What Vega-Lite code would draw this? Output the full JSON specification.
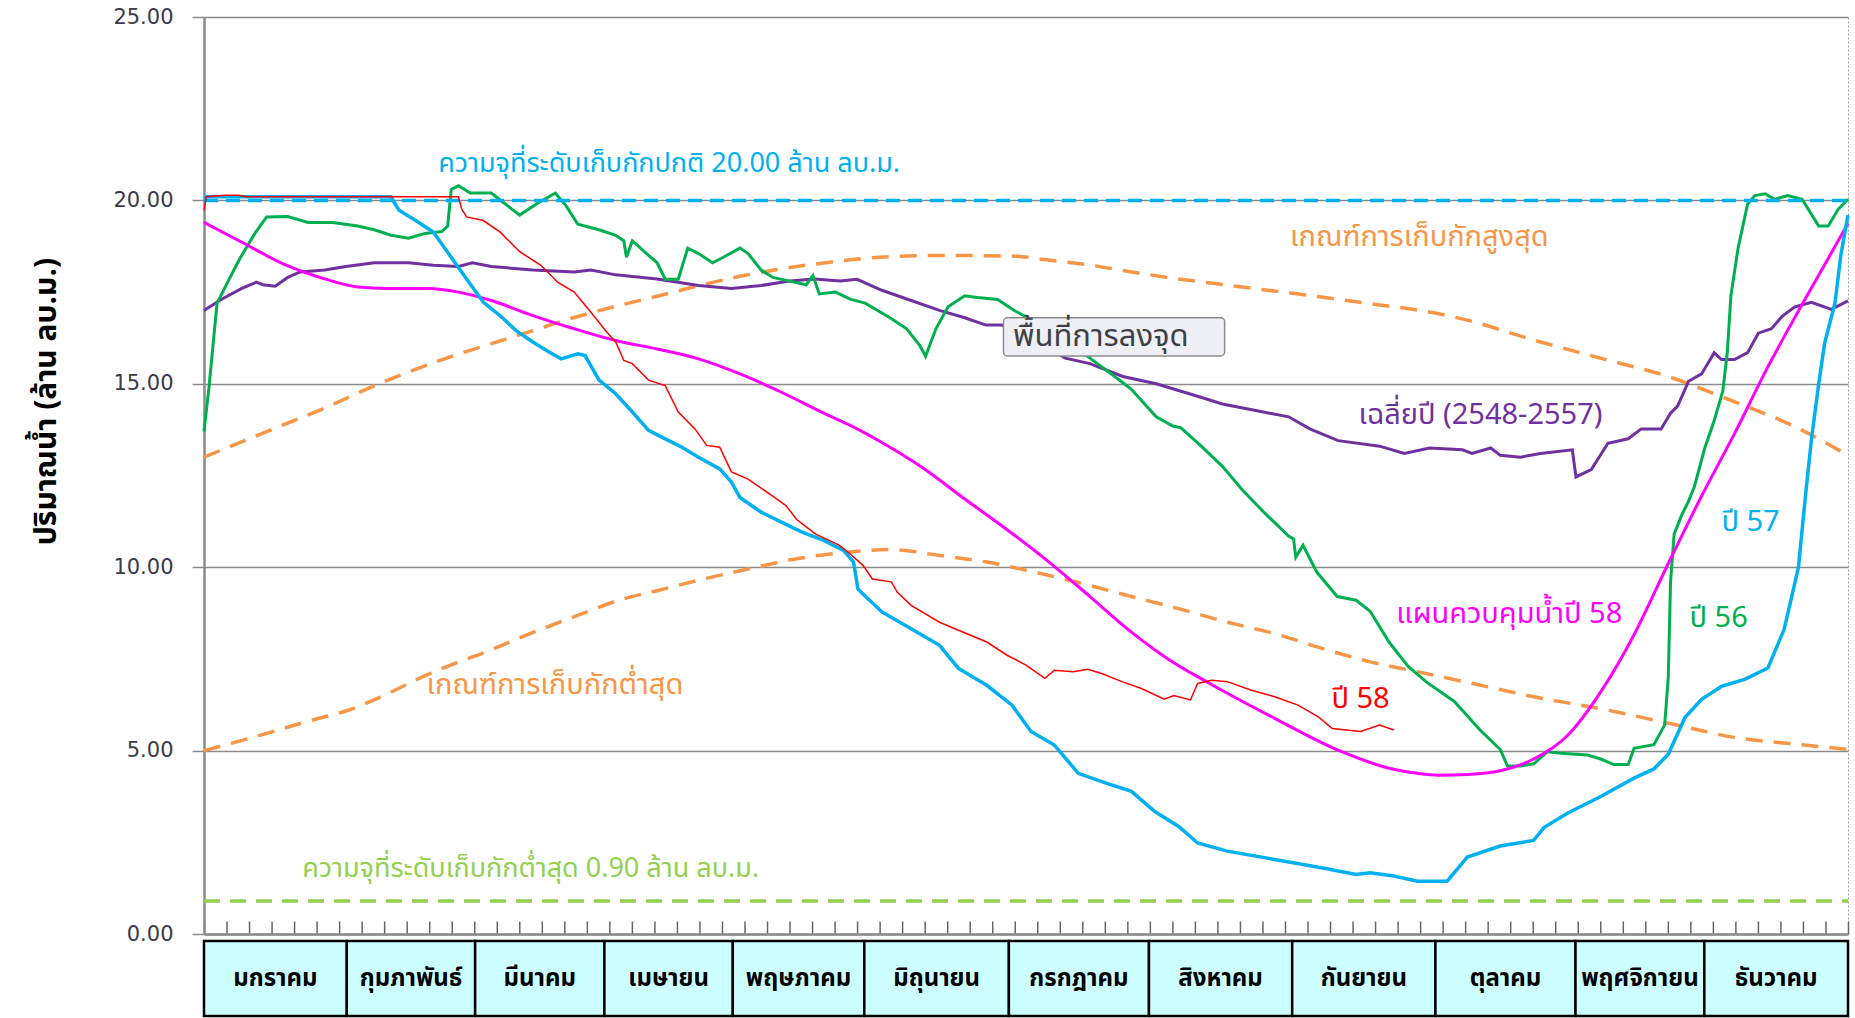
{
"$schema": "https://vega.github.io/schema/vega-lite/v6.json",
"autosize": {"type": "pad"},
"padding": {"left": 30, "top": 5, "right": 7, "bottom": 3},
"background": "white",
"spacing": 7,
"bounds": "flush",
"config": {"font": "Tahoma, 'Noto Sans Thai', 'DejaVu Sans', sans-serif", "view": {"stroke": null}},
"datasets": {
"lines": [
{"s":"p58","d":0,"v":19.73},{"s":"p58","d":0.5,"v":20.1},{"s":"p58","d":4.7,"v":20.14},{"s":"p58","d":7.6,"v":20.14},{"s":"p58","d":9.5,"v":20.1},{"s":"p58","d":56.5,"v":20.1},{"s":"p58","d":57.2,"v":19.77},{"s":"p58","d":58.3,"v":19.55},{"s":"p58","d":62.0,"v":19.45},{"s":"p58","d":65.7,"v":19.14},{"s":"p58","d":70.1,"v":18.6},{"s":"p58","d":74.8,"v":18.23},{"s":"p58","d":78.5,"v":17.77},{"s":"p58","d":82.2,"v":17.5},{"s":"p58","d":85.9,"v":16.95},{"s":"p58","d":89.5,"v":16.4},{"s":"p58","d":91.4,"v":16.14},{"s":"p58","d":93.2,"v":15.64},{"s":"p58","d":95.1,"v":15.55},{"s":"p58","d":98.7,"v":15.1},{"s":"p58","d":102.4,"v":14.95},{"s":"p58","d":105.3,"v":14.23},{"s":"p58","d":109.0,"v":13.77},{"s":"p58","d":111.6,"v":13.32},{"s":"p58","d":114.5,"v":13.27},{"s":"p58","d":117.1,"v":12.6},{"s":"p58","d":120.8,"v":12.4},{"s":"p58","d":126.1,"v":11.95},{"s":"p58","d":129.2,"v":11.68},{"s":"p58","d":131.6,"v":11.3},{"s":"p58","d":135.8,"v":10.9},{"s":"p58","d":141.0,"v":10.6},{"s":"p58","d":143.1,"v":10.4},{"s":"p58","d":146.3,"v":10.05},{"s":"p58","d":148.4,"v":9.68},{"s":"p58","d":152.6,"v":9.6},{"s":"p58","d":153.9,"v":9.32},{"s":"p58","d":157.0,"v":8.96},{"s":"p58","d":163.3,"v":8.5},{"s":"p58","d":167.5,"v":8.28},{"s":"p58","d":173.8,"v":7.96},{"s":"p58","d":178.3,"v":7.6},{"s":"p58","d":182.5,"v":7.33},{"s":"p58","d":186.7,"v":6.97},{"s":"p58","d":188.8,"v":7.19},{"s":"p58","d":193.0,"v":7.15},{"s":"p58","d":196.2,"v":7.22},{"s":"p58","d":199.3,"v":7.1},{"s":"p58","d":203.8,"v":6.88},{"s":"p58","d":208.0,"v":6.7},{"s":"p58","d":213.2,"v":6.4},{"s":"p58","d":215.3,"v":6.5},{"s":"p58","d":219.0,"v":6.38},{"s":"p58","d":220.6,"v":6.83},{"s":"p58","d":223.7,"v":6.92},{"s":"p58","d":227.2,"v":6.88},{"s":"p58","d":232.4,"v":6.65},{"s":"p58","d":237.7,"v":6.47},{"s":"p58","d":242.9,"v":6.24},{"s":"p58","d":247.4,"v":5.92},{"s":"p58","d":250.5,"v":5.6},{"s":"p58","d":256.8,"v":5.52},{"s":"p58","d":261.0,"v":5.7},{"s":"p58","d":264.2,"v":5.56},
{"s":"p57","d":0,"v":20.1},{"s":"p57","d":41.5,"v":20.1},{"s":"p57","d":43.3,"v":19.73},{"s":"p57","d":47.0,"v":19.45},{"s":"p57","d":50.9,"v":19.14},{"s":"p57","d":54.6,"v":18.5},{"s":"p57","d":58.3,"v":17.86},{"s":"p57","d":62.0,"v":17.23},{"s":"p57","d":65.7,"v":16.86},{"s":"p57","d":69.3,"v":16.45},{"s":"p57","d":73.0,"v":16.14},{"s":"p57","d":76.7,"v":15.86},{"s":"p57","d":79.3,"v":15.68},{"s":"p57","d":83.0,"v":15.82},{"s":"p57","d":84.6,"v":15.77},{"s":"p57","d":87.7,"v":15.1},{"s":"p57","d":91.4,"v":14.73},{"s":"p57","d":95.1,"v":14.23},{"s":"p57","d":98.7,"v":13.73},{"s":"p57","d":102.4,"v":13.5},{"s":"p57","d":106.1,"v":13.27},{"s":"p57","d":109.8,"v":13.0},{"s":"p57","d":114.5,"v":12.68},{"s":"p57","d":117.1,"v":12.32},{"s":"p57","d":119.0,"v":11.9},{"s":"p57","d":123.7,"v":11.5},{"s":"p57","d":128.2,"v":11.23},{"s":"p57","d":132.9,"v":10.95},{"s":"p57","d":137.6,"v":10.73},{"s":"p57","d":142.1,"v":10.45},{"s":"p57","d":144.2,"v":10.14},{"s":"p57","d":145.2,"v":9.4},{"s":"p57","d":150.5,"v":8.78},{"s":"p57","d":157.0,"v":8.32},{"s":"p57","d":163.3,"v":7.87},{"s":"p57","d":167.5,"v":7.24},{"s":"p57","d":173.8,"v":6.78},{"s":"p57","d":179.4,"v":6.24},{"s":"p57","d":183.6,"v":5.52},{"s":"p57","d":188.8,"v":5.15},{"s":"p57","d":194.1,"v":4.38},{"s":"p57","d":200.6,"v":4.1},{"s":"p57","d":205.9,"v":3.89},{"s":"p57","d":211.1,"v":3.34},{"s":"p57","d":216.4,"v":2.93},{"s":"p57","d":220.6,"v":2.48},{"s":"p57","d":227.2,"v":2.26},{"s":"p57","d":237.7,"v":2.03},{"s":"p57","d":248.4,"v":1.8},{"s":"p57","d":255.8,"v":1.62},{"s":"p57","d":258.9,"v":1.67},{"s":"p57","d":264.2,"v":1.58},{"s":"p57","d":269.4,"v":1.44},{"s":"p57","d":276.0,"v":1.44},{"s":"p57","d":280.5,"v":2.1},{"s":"p57","d":287.8,"v":2.4},{"s":"p57","d":295.2,"v":2.55},{"s":"p57","d":297.5,"v":2.9},{"s":"p57","d":302.8,"v":3.3},{"s":"p57","d":310.1,"v":3.75},{"s":"p57","d":317.5,"v":4.25},{"s":"p57","d":321.9,"v":4.5},{"s":"p57","d":325.1,"v":4.9},{"s":"p57","d":328.8,"v":5.9},{"s":"p57","d":332.5,"v":6.4},{"s":"p57","d":336.9,"v":6.75},{"s":"p57","d":342.2,"v":6.95},{"s":"p57","d":347.2,"v":7.25},{"s":"p57","d":350.8,"v":8.3},{"s":"p57","d":352.7,"v":9.3},{"s":"p57","d":354.0,"v":10.0},{"s":"p57","d":355.6,"v":12.0},{"s":"p57","d":356.9,"v":13.5},{"s":"p57","d":358.5,"v":15.0},{"s":"p57","d":359.8,"v":16.1},{"s":"p57","d":362.1,"v":17.2},{"s":"p57","d":363.4,"v":18.5},{"s":"p57","d":365,"v":19.6},
{"s":"p56","d":0,"v":13.7},{"s":"p56","d":1.1,"v":14.9},{"s":"p56","d":2.9,"v":17.2},{"s":"p56","d":5.8,"v":17.9},{"s":"p56","d":7.9,"v":18.4},{"s":"p56","d":11.3,"v":19.1},{"s":"p56","d":13.9,"v":19.55},{"s":"p56","d":18.6,"v":19.56},{"s":"p56","d":23.1,"v":19.4},{"s":"p56","d":28.6,"v":19.4},{"s":"p56","d":34.1,"v":19.3},{"s":"p56","d":37.8,"v":19.2},{"s":"p56","d":41.5,"v":19.05},{"s":"p56","d":45.4,"v":18.97},{"s":"p56","d":49.1,"v":19.1},{"s":"p56","d":52.8,"v":19.15},{"s":"p56","d":54.1,"v":19.3},{"s":"p56","d":54.9,"v":20.3},{"s":"p56","d":56.5,"v":20.4},{"s":"p56","d":59.1,"v":20.2},{"s":"p56","d":63.8,"v":20.2},{"s":"p56","d":66.4,"v":19.95},{"s":"p56","d":70.1,"v":19.6},{"s":"p56","d":73.8,"v":19.9},{"s":"p56","d":78.0,"v":20.2},{"s":"p56","d":80.4,"v":19.85},{"s":"p56","d":83.0,"v":19.35},{"s":"p56","d":87.7,"v":19.2},{"s":"p56","d":91.4,"v":19.05},{"s":"p56","d":93.2,"v":18.9},{"s":"p56","d":93.8,"v":18.45},{"s":"p56","d":95.1,"v":18.9},{"s":"p56","d":98.7,"v":18.5},{"s":"p56","d":100.6,"v":18.3},{"s":"p56","d":102.4,"v":17.85},{"s":"p56","d":105.3,"v":17.85},{"s":"p56","d":107.4,"v":18.7},{"s":"p56","d":109.8,"v":18.55},{"s":"p56","d":112.9,"v":18.3},{"s":"p56","d":115.3,"v":18.45},{"s":"p56","d":119.0,"v":18.7},{"s":"p56","d":120.8,"v":18.55},{"s":"p56","d":123.7,"v":18.1},{"s":"p56","d":126.3,"v":17.9},{"s":"p56","d":130.0,"v":17.8},{"s":"p56","d":133.7,"v":17.7},{"s":"p56","d":135.2,"v":17.95},{"s":"p56","d":136.6,"v":17.45},{"s":"p56","d":140.2,"v":17.5},{"s":"p56","d":143.6,"v":17.3},{"s":"p56","d":146.8,"v":17.2},{"s":"p56","d":152.3,"v":16.8},{"s":"p56","d":156.0,"v":16.5},{"s":"p56","d":158.9,"v":16.05},{"s":"p56","d":160.2,"v":15.75},{"s":"p56","d":162.5,"v":16.5},{"s":"p56","d":165.2,"v":17.1},{"s":"p56","d":168.9,"v":17.4},{"s":"p56","d":171.7,"v":17.35},{"s":"p56","d":176.2,"v":17.3},{"s":"p56","d":179.9,"v":17.0},{"s":"p56","d":188.8,"v":16.4},{"s":"p56","d":196.7,"v":15.7},{"s":"p56","d":202.2,"v":15.2},{"s":"p56","d":205.9,"v":14.85},{"s":"p56","d":211.4,"v":14.1},{"s":"p56","d":215.1,"v":13.85},{"s":"p56","d":216.9,"v":13.8},{"s":"p56","d":221.4,"v":13.3},{"s":"p56","d":226.1,"v":12.75},{"s":"p56","d":230.6,"v":12.1},{"s":"p56","d":235.3,"v":11.5},{"s":"p56","d":240.8,"v":10.85},{"s":"p56","d":241.9,"v":10.77},{"s":"p56","d":242.4,"v":10.27},{"s":"p56","d":244.0,"v":10.6},{"s":"p56","d":247.1,"v":9.86},{"s":"p56","d":251.6,"v":9.2},{"s":"p56","d":255.8,"v":9.1},{"s":"p56","d":258.9,"v":8.8},{"s":"p56","d":263.1,"v":7.96},{"s":"p56","d":267.3,"v":7.3},{"s":"p56","d":271.5,"v":6.86},{"s":"p56","d":277.6,"v":6.34},{"s":"p56","d":283.4,"v":5.55},{"s":"p56","d":287.8,"v":5.03},{"s":"p56","d":289.4,"v":4.58},{"s":"p56","d":292.3,"v":4.58},{"s":"p56","d":295.2,"v":4.64},{"s":"p56","d":298.3,"v":4.97},{"s":"p56","d":301.2,"v":4.93},{"s":"p56","d":307.2,"v":4.88},{"s":"p56","d":310.1,"v":4.77},{"s":"p56","d":313.0,"v":4.62},{"s":"p56","d":316.2,"v":4.62},{"s":"p56","d":317.5,"v":5.06},{"s":"p56","d":321.9,"v":5.16},{"s":"p56","d":324.3,"v":5.7},{"s":"p56","d":325.1,"v":7.0},{"s":"p56","d":325.6,"v":9.6},{"s":"p56","d":326.4,"v":10.9},{"s":"p56","d":328.0,"v":11.4},{"s":"p56","d":329.6,"v":11.8},{"s":"p56","d":330.9,"v":12.2},{"s":"p56","d":333.2,"v":13.25},{"s":"p56","d":335.3,"v":14.0},{"s":"p56","d":337.2,"v":14.8},{"s":"p56","d":338.2,"v":15.85},{"s":"p56","d":339.0,"v":17.4},{"s":"p56","d":340.6,"v":18.7},{"s":"p56","d":342.7,"v":19.9},{"s":"p56","d":344.3,"v":20.13},{"s":"p56","d":346.6,"v":20.18},{"s":"p56","d":348.7,"v":20.03},{"s":"p56","d":351.6,"v":20.13},{"s":"p56","d":354.8,"v":20.03},{"s":"p56","d":358.5,"v":19.3},{"s":"p56","d":360.6,"v":19.3},{"s":"p56","d":362.9,"v":19.77},{"s":"p56","d":365,"v":20.03},
{"s":"avg","d":0,"v":17.0},{"s":"avg","d":3.8,"v":17.3},{"s":"avg","d":8.4,"v":17.6},{"s":"avg","d":11.6,"v":17.77},{"s":"avg","d":13.1,"v":17.7},{"s":"avg","d":15.8,"v":17.66},{"s":"avg","d":18.6,"v":17.9},{"s":"avg","d":21.3,"v":18.05},{"s":"avg","d":26.8,"v":18.1},{"s":"avg","d":31.5,"v":18.2},{"s":"avg","d":37.8,"v":18.3},{"s":"avg","d":45.4,"v":18.3},{"s":"avg","d":50.9,"v":18.23},{"s":"avg","d":56.5,"v":18.2},{"s":"avg","d":59.6,"v":18.3},{"s":"avg","d":63.8,"v":18.2},{"s":"avg","d":73.0,"v":18.1},{"s":"avg","d":82.2,"v":18.05},{"s":"avg","d":85.9,"v":18.1},{"s":"avg","d":91.4,"v":17.97},{"s":"avg","d":100.6,"v":17.86},{"s":"avg","d":109.8,"v":17.68},{"s":"avg","d":117.1,"v":17.6},{"s":"avg","d":123.7,"v":17.68},{"s":"avg","d":130.0,"v":17.8},{"s":"avg","d":135.5,"v":17.86},{"s":"avg","d":141.3,"v":17.8},{"s":"avg","d":145.0,"v":17.85},{"s":"avg","d":150.5,"v":17.55},{"s":"avg","d":157.0,"v":17.27},{"s":"avg","d":163.3,"v":17.0},{"s":"avg","d":168.9,"v":16.8},{"s":"avg","d":173.6,"v":16.6},{"s":"avg","d":177.2,"v":16.6},{"s":"avg","d":184.6,"v":16.2},{"s":"avg","d":191.2,"v":15.7},{"s":"avg","d":196.7,"v":15.55},{"s":"avg","d":204.0,"v":15.2},{"s":"avg","d":211.4,"v":15.0},{"s":"avg","d":219.5,"v":14.7},{"s":"avg","d":226.1,"v":14.45},{"s":"avg","d":233.5,"v":14.27},{"s":"avg","d":240.8,"v":14.1},{"s":"avg","d":245.5,"v":13.77},{"s":"avg","d":251.8,"v":13.45},{"s":"avg","d":261.0,"v":13.3},{"s":"avg","d":266.5,"v":13.1},{"s":"avg","d":272.1,"v":13.25},{"s":"avg","d":279.4,"v":13.2},{"s":"avg","d":281.5,"v":13.1},{"s":"avg","d":285.7,"v":13.25},{"s":"avg","d":287.8,"v":13.05},{"s":"avg","d":292.3,"v":13.0},{"s":"avg","d":296.7,"v":13.1},{"s":"avg","d":303.8,"v":13.2},{"s":"avg","d":304.6,"v":12.46},{"s":"avg","d":308.0,"v":12.66},{"s":"avg","d":311.7,"v":13.38},{"s":"avg","d":316.2,"v":13.5},{"s":"avg","d":319.1,"v":13.77},{"s":"avg","d":323.5,"v":13.77},{"s":"avg","d":325.6,"v":14.2},{"s":"avg","d":327.2,"v":14.4},{"s":"avg","d":329.6,"v":15.07},{"s":"avg","d":332.5,"v":15.27},{"s":"avg","d":335.3,"v":15.85},{"s":"avg","d":336.9,"v":15.66},{"s":"avg","d":339.8,"v":15.66},{"s":"avg","d":342.7,"v":15.85},{"s":"avg","d":345.1,"v":16.38},{"s":"avg","d":348.0,"v":16.5},{"s":"avg","d":350.3,"v":16.83},{"s":"avg","d":353.2,"v":17.1},{"s":"avg","d":356.9,"v":17.22},{"s":"avg","d":361.3,"v":17.03},{"s":"avg","d":365,"v":17.26},
{"s":"plan","d":0,"v":19.4},{"s":"plan","d":8.4,"v":18.86},{"s":"plan","d":17.6,"v":18.27},{"s":"plan","d":26.8,"v":17.86},{"s":"plan","d":34.1,"v":17.64},{"s":"plan","d":40.7,"v":17.6},{"s":"plan","d":49.9,"v":17.6},{"s":"plan","d":56.5,"v":17.5},{"s":"plan","d":63.8,"v":17.27},{"s":"plan","d":73.0,"v":16.86},{"s":"plan","d":82.2,"v":16.5},{"s":"plan","d":91.4,"v":16.18},{"s":"plan","d":100.6,"v":15.95},{"s":"plan","d":109.8,"v":15.68},{"s":"plan","d":119.0,"v":15.27},{"s":"plan","d":128.2,"v":14.77},{"s":"plan","d":137.6,"v":14.2},{"s":"plan","d":143.6,"v":13.86},{"s":"plan","d":150.5,"v":13.4},{"s":"plan","d":159.7,"v":12.7},{"s":"plan","d":168.9,"v":11.86},{"s":"plan","d":178.0,"v":11.05},{"s":"plan","d":187.2,"v":10.18},{"s":"plan","d":196.7,"v":9.2},{"s":"plan","d":205.9,"v":8.23},{"s":"plan","d":214.0,"v":7.5},{"s":"plan","d":222.7,"v":6.87},{"s":"plan","d":237.7,"v":5.88},{"s":"plan","d":252.6,"v":4.97},{"s":"plan","d":263.1,"v":4.52},{"s":"plan","d":269.4,"v":4.38},{"s":"plan","d":274.0,"v":4.33},{"s":"plan","d":280.5,"v":4.35},{"s":"plan","d":287.8,"v":4.45},{"s":"plan","d":295.2,"v":4.77},{"s":"plan","d":302.8,"v":5.42},{"s":"plan","d":310.1,"v":6.6},{"s":"plan","d":317.5,"v":8.16},{"s":"plan","d":325.1,"v":10.1},{"s":"plan","d":332.5,"v":11.94},{"s":"plan","d":339.8,"v":13.64},{"s":"plan","d":347.2,"v":15.46},{"s":"plan","d":354.8,"v":17.16},{"s":"plan","d":365,"v":19.37},
{"s":"upper","d":0,"v":13.0},{"s":"upper","d":9,"v":13.45},{"s":"upper","d":18,"v":13.9},{"s":"upper","d":27,"v":14.35},{"s":"upper","d":36,"v":14.85},{"s":"upper","d":45,"v":15.3},{"s":"upper","d":55,"v":15.75},{"s":"upper","d":64,"v":16.1},{"s":"upper","d":73,"v":16.45},{"s":"upper","d":82,"v":16.8},{"s":"upper","d":91,"v":17.1},{"s":"upper","d":101,"v":17.4},{"s":"upper","d":110,"v":17.68},{"s":"upper","d":119,"v":17.93},{"s":"upper","d":128,"v":18.13},{"s":"upper","d":138,"v":18.3},{"s":"upper","d":150,"v":18.45},{"s":"upper","d":164,"v":18.5},{"s":"upper","d":180,"v":18.48},{"s":"upper","d":187,"v":18.38},{"s":"upper","d":197,"v":18.23},{"s":"upper","d":206,"v":18.05},{"s":"upper","d":215,"v":17.88},{"s":"upper","d":224,"v":17.74},{"s":"upper","d":233,"v":17.6},{"s":"upper","d":243,"v":17.45},{"s":"upper","d":252,"v":17.3},{"s":"upper","d":261,"v":17.15},{"s":"upper","d":270,"v":17.0},{"s":"upper","d":280,"v":16.75},{"s":"upper","d":295,"v":16.2},{"s":"upper","d":310,"v":15.7},{"s":"upper","d":325,"v":15.2},{"s":"upper","d":340,"v":14.5},{"s":"upper","d":352,"v":13.9},{"s":"upper","d":365,"v":13.05},
{"s":"lower","d":0,"v":5.0},{"s":"lower","d":10.2,"v":5.34},{"s":"lower","d":23.1,"v":5.8},{"s":"lower","d":32.0,"v":6.1},{"s":"lower","d":39.9,"v":6.5},{"s":"lower","d":47.8,"v":6.97},{"s":"lower","d":54.9,"v":7.34},{"s":"lower","d":62.8,"v":7.7},{"s":"lower","d":70.6,"v":8.1},{"s":"lower","d":82.2,"v":8.65},{"s":"lower","d":93.2,"v":9.14},{"s":"lower","d":100.6,"v":9.36},{"s":"lower","d":110.3,"v":9.66},{"s":"lower","d":120.8,"v":9.95},{"s":"lower","d":131.6,"v":10.23},{"s":"lower","d":142.1,"v":10.4},{"s":"lower","d":152.6,"v":10.48},{"s":"lower","d":163.3,"v":10.32},{"s":"lower","d":173.8,"v":10.14},{"s":"lower","d":184.6,"v":9.86},{"s":"lower","d":195.1,"v":9.55},{"s":"lower","d":205.9,"v":9.2},{"s":"lower","d":216.4,"v":8.87},{"s":"lower","d":227.2,"v":8.5},{"s":"lower","d":237.7,"v":8.19},{"s":"lower","d":248.4,"v":7.78},{"s":"lower","d":258.9,"v":7.42},{"s":"lower","d":269.4,"v":7.15},{"s":"lower","d":280.5,"v":6.86},{"s":"lower","d":295.2,"v":6.47},{"s":"lower","d":310.1,"v":6.14},{"s":"lower","d":325.1,"v":5.75},{"s":"lower","d":339.8,"v":5.36},{"s":"lower","d":354.8,"v":5.16},{"s":"lower","d":365,"v":5.03},
{"s":"cap20","d":0,"v":20.0},{"s":"cap20","d":365,"v":20.0},
{"s":"min09","d":0,"v":0.9},{"s":"min09","d":365,"v":0.9}
],
"labels": [
{"k":"cap20","t":"ความจุที่ระดับเก็บกักปกติ 20.00 ล้าน ลบ.ม.","d":52.0,"v":21.0},
{"k":"upper","t":"เกณฑ์การเก็บกักสูงสุด","d":241.1,"v":19.0},
{"k":"avg","t":"เฉลี่ยปี (2548-2557)","d":256.3,"v":14.15},
{"k":"p57","t":"ปี 57","d":336.9,"v":11.24},
{"k":"plan","t":"แผนควบคุมน้ำปี 58","d":264.7,"v":8.72},
{"k":"p56","t":"ปี 56","d":329.8,"v":8.62},
{"k":"lower","t":"เกณฑ์การเก็บกักต่ำสุด","d":49.4,"v":6.78},
{"k":"p58","t":"ปี 58","d":250.3,"v":6.4},
{"k":"min09","t":"ความจุที่ระดับเก็บกักต่ำสุด 0.90 ล้าน ลบ.ม.","d":21.8,"v":1.78}
],
"box": [{"t":"พื้นที่การลงจุด","d":177.5,"d2":226.6,"v":16.8,"v2":15.76,"tx":179.6,"tv":16.28}],
"months": [
{"m":"มกราคม","a":0,"b":31.7},{"m":"กุมภาพันธ์","a":31.7,"b":60.2},{"m":"มีนาคม","a":60.2,"b":88.9},{"m":"เมษายน","a":88.9,"b":117.4},{"m":"พฤษภาคม","a":117.4,"b":146.6},{"m":"มิถุนายน","a":146.6,"b":178.7},{"m":"กรกฎาคม","a":178.7,"b":209.8},{"m":"สิงหาคม","a":209.8,"b":241.6},{"m":"กันยายน","a":241.6,"b":273.4},{"m":"ตุลาคม","a":273.4,"b":304.5},{"m":"พฤศจิกายน","a":304.5,"b":333.1},{"m":"ธันวาคม","a":333.1,"b":365}
]
},
"vconcat": [
{
"width": 1644, "height": 917,
"view": {"stroke": "#9a9a9a", "strokeDash": [2, 2], "strokeWidth": 1},
"data": {"name": "lines"},
"layer": [
{"transform": [{"filter": "datum.s === 'lower' || datum.s === 'upper'"}],
 "mark": {"type": "line", "interpolate": "monotone", "color": "#F79646", "strokeWidth": 3.5, "strokeDash": [17, 11]},
 "encoding": {
  "x": {"field": "d", "type": "quantitative", "scale": {"domain": [0, 365], "nice": false, "zero": false},
        "axis": {"title": null, "labels": false, "grid": false, "tickCount": 73, "tickRound": false,
                 "tickSize": -13, "tickColor": "#666666", "tickWidth": 1.5, "domainColor": "#8a8a8a", "domainWidth": 2.5}},
  "y": {"field": "v", "type": "quantitative", "scale": {"domain": [0, 25], "nice": false, "zero": true},
        "axis": {"title": "ปริมาณน้ำ (ล้าน ลบ.ม.)", "values": [0, 5, 10, 15, 20, 25], "format": ".2f",
                 "grid": true, "gridColor": "#8a8a8a", "gridWidth": 1.5,
                 "tickSize": 12, "tickColor": "#8a8a8a", "tickWidth": 1.5, "domainColor": "#8a8a8a", "domainWidth": 2.5,
                 "labelFontSize": 21, "labelColor": "#3a3a4a", "labelPadding": 19, "labelFont": "Tahoma, 'DejaVu Sans', sans-serif",
                 "titleFontSize": 30, "titleFontWeight": "bold", "titleColor": "black", "titleX": -158, "titleY": 384,
                 "titleAngle": 270, "titleAlign": "center", "titleBaseline": "middle"}},
  "detail": {"field": "s"}
 }},
{"transform": [{"filter": "datum.s === 'min09'"}],
 "mark": {"type": "line", "color": "#92D050", "strokeWidth": 3.5, "strokeDash": [16, 10]},
 "encoding": {"x": {"field": "d", "type": "quantitative"}, "y": {"field": "v", "type": "quantitative"}}},
{"transform": [{"filter": "datum.s === 'avg'"}],
 "mark": {"type": "line", "color": "#7030A0", "strokeWidth": 3},
 "encoding": {"x": {"field": "d", "type": "quantitative"}, "y": {"field": "v", "type": "quantitative"}}},
{"transform": [{"filter": "datum.s === 'p56'"}],
 "mark": {"type": "line", "color": "#00B050", "strokeWidth": 3},
 "encoding": {"x": {"field": "d", "type": "quantitative"}, "y": {"field": "v", "type": "quantitative"}}},
{"transform": [{"filter": "datum.s === 'plan'"}],
 "mark": {"type": "line", "interpolate": "monotone", "color": "#FF00FF", "strokeWidth": 3},
 "encoding": {"x": {"field": "d", "type": "quantitative"}, "y": {"field": "v", "type": "quantitative"}}},
{"transform": [{"filter": "datum.s === 'p57'"}],
 "mark": {"type": "line", "color": "#00B0F0", "strokeWidth": 3.5},
 "encoding": {"x": {"field": "d", "type": "quantitative"}, "y": {"field": "v", "type": "quantitative"}}},
{"transform": [{"filter": "datum.s === 'cap20'"}],
 "mark": {"type": "line", "color": "#00B0F0", "strokeWidth": 3.5, "strokeDash": [14, 8]},
 "encoding": {"x": {"field": "d", "type": "quantitative"}, "y": {"field": "v", "type": "quantitative"}}},
{"transform": [{"filter": "datum.s === 'p58'"}],
 "mark": {"type": "line", "color": "#FF0000", "strokeWidth": 1.5},
 "encoding": {"x": {"field": "d", "type": "quantitative"}, "y": {"field": "v", "type": "quantitative"}}},
{"data": {"name": "box"},
 "mark": {"type": "rect", "fill": "#EEF0F6", "stroke": "#8c8c8c", "strokeWidth": 1.5, "cornerRadius": 4},
 "encoding": {"x": {"field": "d", "type": "quantitative"}, "x2": {"field": "d2"}, "y": {"field": "v", "type": "quantitative"}, "y2": {"field": "v2"}}},
{"data": {"name": "box"},
 "mark": {"type": "text", "align": "left", "baseline": "middle", "fontSize": 31, "color": "#404048"},
 "encoding": {"x": {"field": "tx", "type": "quantitative"}, "y": {"field": "tv", "type": "quantitative"}, "text": {"field": "t"}}},
{"data": {"name": "labels"},
 "transform": [{"filter": "datum.k !== 'cap20' && datum.k !== 'min09'"}],
 "mark": {"type": "text", "align": "left", "baseline": "middle", "fontSize": 29},
 "encoding": {"x": {"field": "d", "type": "quantitative"}, "y": {"field": "v", "type": "quantitative"}, "text": {"field": "t"},
   "color": {"field": "k", "type": "nominal", "legend": null,
     "scale": {"domain": ["cap20", "upper", "avg", "p57", "plan", "p56", "lower", "p58", "min09"],
               "range": ["#00B0F0", "#F79646", "#7030A0", "#00B0F0", "#FF00FF", "#00B050", "#F79646", "#FF0000", "#92D050"]}}}},
{"data": {"name": "labels"},
 "transform": [{"filter": "datum.k === 'cap20' || datum.k === 'min09'"}],
 "mark": {"type": "text", "align": "left", "baseline": "middle", "fontSize": 27},
 "encoding": {"x": {"field": "d", "type": "quantitative"}, "y": {"field": "v", "type": "quantitative"}, "text": {"field": "t"},
   "color": {"field": "k", "type": "nominal", "legend": null}}}
]
},
{
"width": 1644, "height": 75,
"data": {"name": "months"},
"transform": [{"calculate": "(datum.a + datum.b) / 2", "as": "mid"}],
"layer": [
{"mark": {"type": "rect", "fill": "#CCFFFF", "stroke": "black", "strokeWidth": 2.5},
 "encoding": {"x": {"field": "a", "type": "quantitative", "scale": {"domain": [0, 365], "nice": false, "zero": false}, "axis": null}, "x2": {"field": "b"}}},
{"mark": {"type": "text", "fontSize": 24, "fontWeight": "bold", "color": "black", "align": "center", "baseline": "middle"},
 "encoding": {"x": {"field": "mid", "type": "quantitative", "axis": null}, "text": {"field": "m"}}}
]
}
]
}
